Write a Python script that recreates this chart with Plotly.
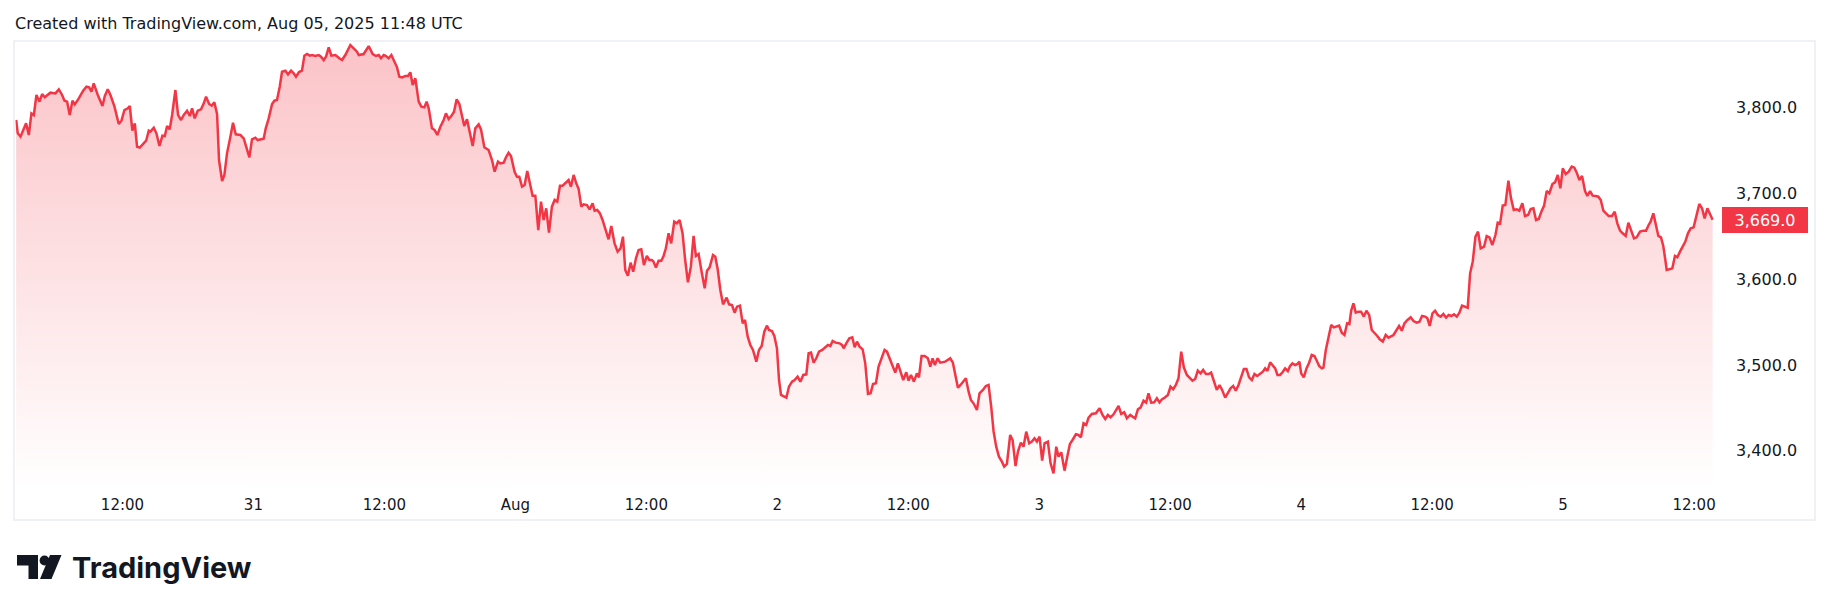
import plotly.graph_objects as go
import pandas as pd

# ---------------- data ----------------
START = pd.Timestamp("2025-07-30 00:00")

# hours since 2025-07-30 00:00
hours = [
    2.26, 2.41, 2.66, 2.96, 3.17, 3.42, 3.66, 3.88, 4.12, 4.40,
    4.64, 4.88, 5.40, 5.86, 6.17, 6.47, 6.69, 6.93, 7.17, 7.42,
    7.63, 8.00, 8.40, 8.70, 8.95, 9.16, 9.37, 9.74, 10.17, 10.38,
    10.65, 10.90, 11.27, 11.66, 11.91, 12.18, 12.49, 12.67, 12.91, 13.13,
    13.34, 13.59, 13.89, 14.17, 14.41, 14.56, 14.87, 15.11, 15.39, 15.66,
    15.88, 16.09, 16.33, 16.55, 16.85, 17.10, 17.37, 17.62, 17.92, 18.17,
    18.38, 18.62, 18.90, 19.20, 19.45, 19.66, 19.94, 20.18, 20.42, 20.67,
    20.85, 21.13, 21.34, 21.58, 21.89, 22.13, 22.38, 22.81, 23.11, 23.36,
    23.63, 23.87, 24.18, 24.39, 24.94, 25.13, 25.40, 25.71, 25.92, 26.16,
    26.41, 26.62, 26.93, 27.17, 27.45, 27.69, 27.90, 28.18, 28.45, 28.67,
    28.91, 29.16, 29.37, 29.67, 29.98, 30.19, 30.44, 30.65, 30.90, 31.14,
    31.51, 31.87, 32.12, 32.42, 32.88, 33.19, 33.49,
    33.65, 34.10, 34.56, 34.93, 35.23, 35.48, 35.69, 35.94, 36.15, 36.39,
    36.64, 36.94, 37.16, 37.37, 37.61, 37.92, 38.16, 38.38, 38.59, 38.84,
    39.14, 39.39, 39.66, 39.87, 40.06, 40.36, 40.61, 40.85, 41.13, 41.43,
    41.64, 41.89, 42.13, 42.38, 42.62, 42.87, 43.11, 43.32, 43.57, 43.81,
    44.09, 44.33, 44.64, 44.85, 45.16, 45.55, 45.86, 46.10, 46.41, 46.62,
    46.93, 47.14, 47.38, 47.60, 47.93, 48.15, 48.36, 48.61, 48.85, 49.09,
    49.34, 49.58, 49.83, 50.10, 50.35, 50.59, 50.83, 51.08, 51.35, 51.60,
    51.84, 52.09, 52.33, 52.57, 52.88, 53.09, 53.34, 53.58, 53.80, 54.04,
    54.25, 54.56, 54.80, 55.08, 55.26, 55.50, 55.75, 55.99, 56.24, 56.54,
    56.79, 57.09, 57.37, 57.64, 57.86, 58.07, 58.31, 58.56, 58.80, 59.05,
    59.29, 59.54, 59.78, 60.05, 60.27, 60.51, 60.66, 60.88, 61.12, 61.37,
    61.58, 61.79, 62.04, 62.28, 62.56, 62.80, 63.05, 63.32, 63.56, 63.81,
    64.08, 64.33, 64.54, 64.79, 65.09,
    65.35, 65.56, 65.80, 66.11, 66.32, 66.54, 66.78, 67.03, 67.18, 67.36,
    67.58, 67.85, 68.09, 68.31, 68.58, 68.83, 69.04, 69.29, 69.53, 69.77,
    70.08, 70.32, 70.57, 70.81, 71.06, 71.24, 71.51, 71.73, 71.97, 72.16,
    72.34, 72.83, 73.07, 73.35, 73.59, 73.86, 74.11, 74.38, 74.66, 74.87,
    75.09, 75.33, 75.57, 75.82, 76.12, 76.40, 76.64, 76.86, 77.07, 77.35,
    77.71, 77.93, 78.08, 78.32, 78.60, 78.87, 79.09, 79.30, 79.54, 79.82,
    80.06, 80.31, 80.55, 80.77, 81.04, 81.28, 81.59, 81.83, 82.05, 82.29,
    82.57, 82.81, 83.05, 83.30, 83.54, 83.82, 84.03, 84.25, 84.52, 84.79,
    84.98, 85.22, 85.50, 85.80, 86.02, 86.23, 86.44, 86.69, 86.93, 87.39,
    87.85, 88.09, 88.31, 88.55, 88.79, 89.28, 89.53, 89.74, 89.98, 90.29,
    90.53, 90.84, 91.11, 91.36, 91.60, 91.82, 92.06, 92.31, 92.58, 92.79,
    93.04, 93.34, 93.56, 93.83, 94.05, 94.32, 94.56, 94.81, 95.08, 95.33,
    95.57, 95.79, 96.03, 96.27, 96.49,
    96.79, 97.04, 97.31, 97.56, 97.77, 98.02, 98.32, 98.57, 98.81, 99.05,
    99.36, 99.60, 99.82, 100.06, 100.31, 100.52, 100.82, 101.19, 101.53, 101.80,
    102.05, 102.29, 102.53, 102.81, 103.05, 103.27, 103.51, 103.79, 104.03, 104.34,
    104.55, 104.79, 105.04, 105.28, 105.56, 105.80, 106.01, 106.26, 106.53, 106.78,
    107.02, 107.24, 107.54, 107.79, 108.03, 108.27, 108.52, 108.76, 109.01, 109.25,
    109.53, 109.77, 110.04, 110.29, 110.53, 110.78, 111.02, 111.27, 111.51, 111.75,
    112.00, 112.27, 112.52, 112.76, 113.04, 113.28, 113.53, 113.77, 114.01, 114.26,
    114.50, 114.75, 114.99, 115.23, 115.48, 115.72, 115.97, 116.24, 116.49, 116.70,
    116.91, 117.16, 117.40, 117.62, 117.83, 118.07, 118.29, 118.53, 118.78, 118.99,
    119.20, 119.45, 119.66, 119.84, 120.00, 120.24, 120.49, 120.73, 120.97, 121.22,
    121.43, 121.65, 121.89, 122.04, 122.26, 122.50, 122.75, 122.99, 123.20, 123.48,
    123.72, 123.97, 124.21, 124.42, 124.58, 124.79, 125.00, 125.25, 125.49, 125.74,
    125.98, 126.23, 126.47, 126.71, 126.96, 127.20, 127.48, 127.75, 128.00,
    128.46, 128.70, 128.97, 129.22, 129.46, 129.74, 130.04, 130.29, 130.59, 130.84,
    131.08, 131.36, 131.57, 131.78, 132.03, 132.27, 132.52, 132.79, 133.03, 133.28,
    133.52, 133.77, 134.01, 134.26, 134.50, 134.74, 135.02, 135.26, 135.48, 135.72,
    135.97, 136.21, 136.45, 136.76, 137.00, 137.25, 137.52, 137.80, 138.01, 138.23,
    138.47, 138.71, 138.99, 139.23, 139.48, 139.75, 139.99, 140.27, 140.51, 140.79,
    141.03, 141.28, 141.52, 141.77, 142.01, 142.26, 142.50, 142.74, 143.02, 143.26,
    143.51, 143.75, 143.97, 144.24, 144.51, 144.79, 145.03, 145.25, 145.49, 145.74,
    146.01, 146.22, 146.47, 146.71, 146.99, 147.23, 147.45, 147.69, 147.93, 148.18,
    148.48, 148.73, 148.97, 149.22, 149.46, 149.74, 149.98, 150.22, 150.50, 150.74,
    151.05, 151.35, 151.60, 151.84, 152.02, 152.27, 152.48, 152.73, 152.97, 153.18,
    153.37, 153.49, 153.73, 154.01, 154.25, 154.47, 154.71, 154.96, 155.20, 155.44,
    155.69, 155.96, 156.24, 156.48, 156.73, 156.97, 157.22, 157.46, 157.70,
]

price = [
    3785.2, 3769.7, 3765.8, 3775.5, 3781.3, 3767.7, 3792.9, 3791.0, 3814.3, 3806.5,
    3815.4, 3811.6, 3817.0, 3816.2, 3820.9, 3814.3, 3807.7, 3806.5, 3791.0, 3807.7,
    3803.4, 3810.4, 3819.3, 3824.0, 3823.2, 3818.2, 3827.9, 3814.3, 3801.5, 3813.1,
    3820.9, 3814.3, 3800.7, 3780.5, 3784.4, 3796.8, 3798.8, 3801.5, 3772.8, 3781.3,
    3754.1, 3753.0, 3757.2, 3761.1, 3772.8, 3771.6, 3776.2, 3769.7, 3754.9, 3766.9,
    3766.5, 3778.2, 3774.3, 3791.0, 3820.1, 3791.0, 3785.2, 3791.0, 3796.0, 3789.8,
    3798.8, 3787.1, 3796.0, 3797.6, 3804.6, 3812.3, 3803.8, 3801.9, 3805.7, 3792.2,
    3738.6, 3714.2, 3721.2, 3746.4, 3765.8, 3782.1, 3768.5, 3767.7, 3763.8, 3752.2,
    3741.7, 3762.7, 3764.6, 3761.9, 3763.5, 3775.5, 3787.1, 3803.8, 3807.7, 3808.5,
    3824.0, 3841.4, 3842.6, 3838.3, 3842.6, 3839.5, 3835.6, 3841.1, 3842.6, 3860.1,
    3862.0, 3860.1, 3860.8, 3859.7, 3860.8, 3858.9, 3855.0, 3858.9, 3869.8, 3860.1,
    3860.8, 3857.0, 3855.0, 3860.8, 3872.5, 3868.6, 3864.7,
    3860.8, 3862.0, 3871.3, 3862.0, 3859.7, 3860.8, 3857.0, 3860.8, 3859.7, 3857.0,
    3860.8, 3853.1, 3846.5, 3835.6, 3834.8, 3836.4, 3836.4, 3840.7, 3825.9, 3833.7,
    3806.5, 3800.7, 3799.9, 3806.5, 3798.8, 3775.5, 3773.5, 3767.7, 3777.4, 3785.2,
    3792.9, 3786.3, 3789.8, 3794.9, 3809.2, 3803.8, 3791.0, 3778.2, 3786.0, 3772.8,
    3754.9, 3775.5, 3780.1, 3774.3, 3753.4, 3750.3, 3738.6, 3725.0, 3736.7, 3734.7,
    3735.5, 3741.7, 3747.1, 3743.3, 3725.0, 3719.2, 3719.2, 3707.6, 3709.5, 3725.8,
    3709.5, 3697.1, 3697.1, 3657.1, 3690.1, 3668.8, 3682.4, 3654.0, 3684.3, 3692.1,
    3690.1, 3708.7, 3708.7, 3711.5, 3715.3, 3707.6, 3721.2, 3711.5, 3704.9, 3684.3,
    3687.0, 3686.2, 3681.2, 3688.2, 3679.6, 3680.4, 3676.5, 3668.8, 3659.1, 3646.3,
    3661.8, 3641.6, 3631.9, 3635.8, 3649.4, 3610.6, 3604.0, 3619.1, 3608.6, 3624.2,
    3633.9, 3634.6, 3616.4, 3626.9, 3622.2, 3622.2, 3620.3, 3613.3, 3621.4, 3621.4,
    3626.9, 3635.8, 3653.3, 3641.6, 3666.8, 3664.9, 3668.8, 3653.3, 3622.2, 3596.2,
    3614.5, 3650.2, 3626.9, 3629.2, 3606.7,
    3589.2, 3609.8, 3613.7, 3628.0, 3626.1, 3611.4, 3587.3, 3570.6, 3573.7, 3578.4,
    3570.6, 3569.8, 3560.9, 3567.9, 3569.1, 3548.5, 3552.4, 3533.0, 3523.3, 3517.5,
    3503.9, 3517.5, 3522.1, 3538.8, 3545.8, 3540.7, 3539.6, 3533.8, 3519.4, 3482.5,
    3465.1, 3462.0, 3474.8, 3480.6, 3482.5, 3486.4, 3480.6, 3488.4, 3489.1, 3513.6,
    3514.4, 3502.7, 3507.8, 3515.5, 3517.5, 3521.3, 3523.3, 3522.1, 3527.9, 3526.0,
    3525.2, 3523.3, 3519.4, 3525.2, 3531.0, 3532.2, 3520.6, 3527.2, 3521.3, 3518.2,
    3501.9, 3466.2, 3467.0, 3477.9, 3478.7, 3498.1, 3510.5, 3517.5, 3515.5, 3507.8,
    3498.1, 3491.1, 3501.9, 3491.1, 3482.5, 3491.5, 3481.8, 3488.4, 3480.6, 3490.3,
    3485.6, 3510.5, 3510.5, 3507.8, 3498.1, 3507.8, 3500.0, 3507.8, 3502.7, 3503.9,
    3507.8, 3502.7, 3490.3, 3473.6, 3476.7, 3484.5, 3468.9, 3459.3, 3455.4, 3447.6,
    3467.0, 3470.9, 3475.6, 3476.7, 3451.5, 3422.4, 3404.9, 3393.3, 3387.5, 3381.7,
    3384.8, 3418.5, 3412.7, 3382.4, 3399.1, 3409.6, 3404.9, 3422.4, 3408.8, 3410.8,
    3414.6, 3410.8, 3416.6, 3388.6, 3408.8,
    3410.8, 3385.5, 3373.9, 3404.9, 3393.3, 3398.3, 3377.0, 3393.3, 3408.0, 3412.7,
    3419.3, 3418.5, 3415.8, 3432.1, 3430.2, 3438.7, 3443.0, 3443.7, 3449.6, 3441.8,
    3437.1, 3441.8, 3439.1, 3442.6, 3447.6, 3452.3, 3443.0, 3444.9, 3437.9, 3441.8,
    3439.9, 3437.9, 3448.4, 3450.3, 3458.5, 3456.2, 3467.0, 3456.2, 3456.5, 3461.2,
    3456.5, 3460.0, 3462.4, 3465.1, 3474.8, 3471.7, 3476.7, 3484.5, 3515.5, 3497.3,
    3488.4, 3485.6, 3481.8, 3483.7, 3493.4, 3490.3, 3494.2, 3489.5, 3489.5, 3491.1,
    3482.5, 3470.9, 3476.7, 3470.9, 3462.0, 3467.0, 3472.8, 3475.6, 3470.1, 3476.7,
    3485.3, 3495.4, 3495.4, 3485.6, 3482.5, 3489.5, 3487.2, 3490.3, 3492.2, 3496.1,
    3493.0, 3503.1, 3500.0, 3496.1, 3488.4, 3488.4, 3491.5, 3496.1, 3493.0, 3498.8,
    3501.9, 3500.0, 3501.2, 3503.9, 3490.3, 3485.6, 3496.1, 3502.7, 3511.7, 3510.5,
    3505.0, 3498.8, 3496.1, 3496.9, 3517.5, 3533.0, 3546.6, 3543.8, 3544.6, 3545.8,
    3537.6, 3534.9, 3548.5, 3547.7, 3563.2, 3571.8, 3560.9, 3562.1, 3562.1, 3556.3,
    3563.2, 3558.2, 3540.7, 3538.0, 3534.1, 3529.9, 3527.2, 3534.9, 3531.8,
    3534.9, 3539.9, 3545.4, 3539.9, 3548.5, 3552.4, 3555.5, 3551.2, 3549.3, 3550.4,
    3557.0, 3556.3, 3554.3, 3545.4, 3560.1, 3563.2, 3558.2, 3556.3, 3559.4, 3555.1,
    3558.2, 3557.0, 3559.0, 3556.3, 3560.9, 3569.1, 3567.9, 3566.7, 3606.7, 3620.3,
    3649.4, 3655.2, 3635.8, 3637.7, 3650.2, 3648.6, 3639.7, 3651.3, 3665.7, 3664.9,
    3685.5, 3686.2, 3714.6, 3694.0, 3680.4, 3681.2, 3679.6, 3688.2, 3673.4, 3674.6,
    3681.6, 3682.4, 3668.8, 3670.0, 3678.5, 3685.5, 3702.5, 3699.8, 3710.7, 3712.6,
    3721.2, 3705.6, 3728.9, 3722.3, 3725.0, 3730.9, 3729.7, 3723.9, 3715.3, 3720.0,
    3702.5, 3696.7, 3702.5, 3697.1, 3696.7, 3695.9, 3692.1, 3679.6, 3676.5, 3673.4,
    3673.4, 3678.5, 3664.9, 3656.4, 3653.3, 3650.2, 3665.7, 3657.1, 3647.4, 3648.6,
    3655.2, 3656.4, 3656.4, 3663.0, 3666.8, 3676.5, 3665.7, 3650.2, 3648.6, 3638.5,
    3622.2, 3610.6, 3611.4, 3612.5, 3626.9, 3625.3, 3631.9, 3637.7, 3643.6, 3653.3,
    3659.1, 3660.2, 3674.6, 3687.4, 3682.4, 3670.7, 3682.4, 3676.5, 3669.0,
]

tick_hours = [12, 24, 36, 48, 60, 72, 84, 96, 108, 120, 132, 144, 156]
tick_labels = ["12:00", "31", "12:00", "Aug", "12:00", "2", "12:00", "3",
               "12:00", "4", "12:00", "5", "12:00"]
price_ticks = [3400, 3500, 3600, 3700, 3800]

assert len(hours) == len(price)

# ---------------- layout helpers ----------------
W, H = 1830, 611
RED = "#F23645"
TXT = "#131722"
FONT = "DejaVu Sans"


def px(x):
    return x / W


def py(y):
    return 1 - y / H


times = START + pd.to_timedelta(hours, unit="h")
tick_times = START + pd.to_timedelta(tick_hours, unit="h")

Y_MIN, Y_MAX = 3353.3, 3876.0
X_MIN = START + pd.Timedelta(hours=2.2)
X_MAX = START + pd.Timedelta(hours=158.56)

fig = go.Figure()
fig.add_trace(go.Scatter(
    x=times, y=price, mode="lines",
    line=dict(color=RED, width=2.5),
    fill="tozeroy",
    fillgradient=dict(
        type="vertical",
        colorscale=[[0, "rgba(242,54,69,0)"], [1, "rgba(242,54,69,0.30)"]],
        start=Y_MIN, stop=Y_MAX,
    ),
    hoverinfo="skip", showlegend=False,
))

fig.update_layout(
    width=W, height=H,
    margin=dict(l=0, r=0, t=0, b=0),
    paper_bgcolor="white", plot_bgcolor="white",
    showlegend=False,
    font=dict(family=FONT, color=TXT, size=15),
    xaxis=dict(
        domain=[px(15.5), px(1722)],
        range=[X_MIN, X_MAX],
        tickvals=tick_times, ticktext=tick_labels,
        showgrid=False, zeroline=False, showline=False, ticks="",
        tickfont=dict(family=FONT, size=15, color=TXT),
        ticklabelstandoff=3,
        fixedrange=True,
    ),
    yaxis=dict(
        domain=[py(491), py(42)],
        range=[Y_MIN, Y_MAX],
        side="right",
        tickvals=price_ticks, tickformat=",.1f",
        showgrid=False, zeroline=False, showline=False, ticks="",
        tickfont=dict(family=FONT, size=16, color=TXT),
        ticklabelstandoff=13,
        fixedrange=True,
    ),
)

# chart frame
fig.add_shape(type="rect", xref="paper", yref="paper",
              x0=px(14), x1=px(1815), y0=py(520), y1=py(41),
              line=dict(color="#EFF1F4", width=2), fillcolor="rgba(0,0,0,0)",
              layer="below")

# header text
fig.add_annotation(xref="paper", yref="paper", x=px(13), y=py(23),
                   xanchor="left", yanchor="middle", showarrow=False,
                   text="Created with TradingView.com, Aug 05, 2025 11:48 UTC",
                   font=dict(family=FONT, size=16, color=TXT))

# last price label
fig.add_annotation(xref="paper", yref="y", x=px(1765), y=price[-1],
                   xanchor="center", yanchor="middle", showarrow=False,
                   text=f"{price[-1]:,.1f}", width=82, height=22, borderpad=2,
                   bgcolor=RED, borderwidth=0,
                   font=dict(family=FONT, size=16, color="white"))

# TradingView logo
def path(points):
    s = "M " + " L ".join(f"{px(a)},{py(b)}" for a, b in points) + " Z"
    return s

fig.add_shape(type="path", xref="paper", yref="paper",
              path=path([(17, 555), (38, 555), (38, 579), (28.5, 579), (28.5, 565.5), (17, 565.5)]),
              fillcolor="#131722", line=dict(width=0))
fig.add_shape(type="circle", xref="paper", yref="paper",
              x0=px(39.6), x1=px(49.4), y0=py(565.4), y1=py(555.6),
              fillcolor="#131722", line=dict(width=0))
fig.add_shape(type="path", xref="paper", yref="paper",
              path=path([(50, 555), (61.5, 555), (51.5, 579), (40, 579)]),
              fillcolor="#131722", line=dict(width=0))
fig.add_annotation(xref="paper", yref="paper", x=px(70), y=py(567),
                   xanchor="left", yanchor="middle", showarrow=False,
                   text="TradingView",
                   font=dict(family="Inter", size=29, color="#131722", weight=700))

fig.write_html("out.html", config={"displayModeBar": False},
               post_script="document.body.style.margin='0';document.body.style.overflow='hidden';")
